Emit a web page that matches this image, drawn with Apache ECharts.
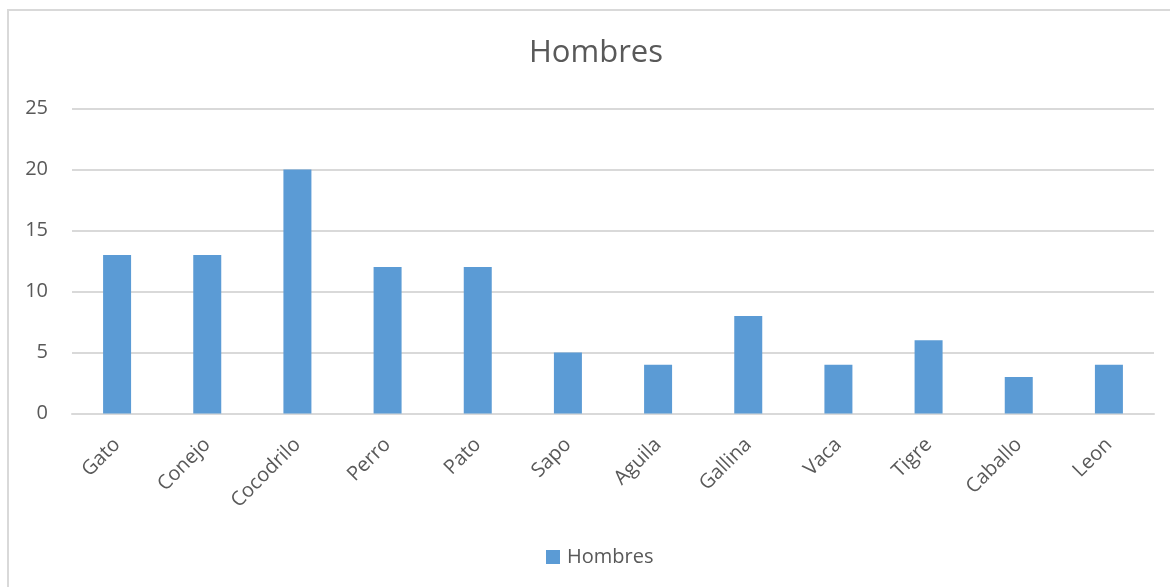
<!DOCTYPE html>
<html><head><meta charset="utf-8">
<script src="https://cdn.jsdelivr.net/npm/echarts@6/dist/echarts.min.js"></script>
<style>
html,body{margin:0;padding:0;background:#fff;width:1170px;height:587px;overflow:hidden;}
#frame{position:absolute;left:7px;top:9px;width:1200px;height:700px;border:2px solid #d9d9d9;box-sizing:border-box;}
#c{position:absolute;left:0;top:0;width:1170px;height:587px;}
</style></head>
<body>
<div id="frame"></div>
<div id="c"></div>
<script>
const categories = ['Gato','Conejo','Cocodrilo','Perro','Pato','Sapo','Aguila','Gallina','Vaca','Tigre','Caballo','Leon'];
const hombres = [13,13,20,12,12,5,4,8,4,6,3,4];
const yTicks = [0,5,10,15,20,25];

const chart = echarts.init(document.getElementById('c'));
const font = '"Open Sans", "Liberation Sans", sans-serif';
chart.setOption({
  backgroundColor: 'transparent',
  animation: false,
  title: {text: 'Hombres', left: 524, top: 33,
    textStyle: {fontFamily: font, fontSize: 31, fontWeight: 'normal', color: '#595959'}},
  legend: {top: 542, left: 541, itemWidth: 14, itemHeight: 14, itemGap: 8,
    icon: 'rect',
    textStyle: {fontFamily: font, fontSize: 20, color: '#595959', padding: [0, 0, 0, 2]},
    data: ['Hombres']},
  grid: {left: 72, right: 16, top: 108.5, bottom: 173.5, containLabel: false},
  xAxis: {type: 'category', data: categories,
    axisLine: {lineStyle: {color: '#d9d9d9', width: 2}},
    axisTick: {show: false},
    axisLabel: {rotate: 45, fontFamily: font, fontSize: 20, color: '#595959', margin: 28, interval: 0}},
  yAxis: {type: 'value', min: yTicks[0], max: yTicks[yTicks.length-1], interval: 5,
    axisLine: {show: false}, axisTick: {show: false},
    splitLine: {lineStyle: {color: '#d9d9d9', width: 2}},
    axisLabel: {fontFamily: font, fontSize: 20, color: '#595959', margin: 24}},
  series: [{name: 'Hombres', type: 'bar', data: hombres, barWidth: 28,
    itemStyle: {color: '#5b9bd5'}}]
});
</script>
</body></html>
